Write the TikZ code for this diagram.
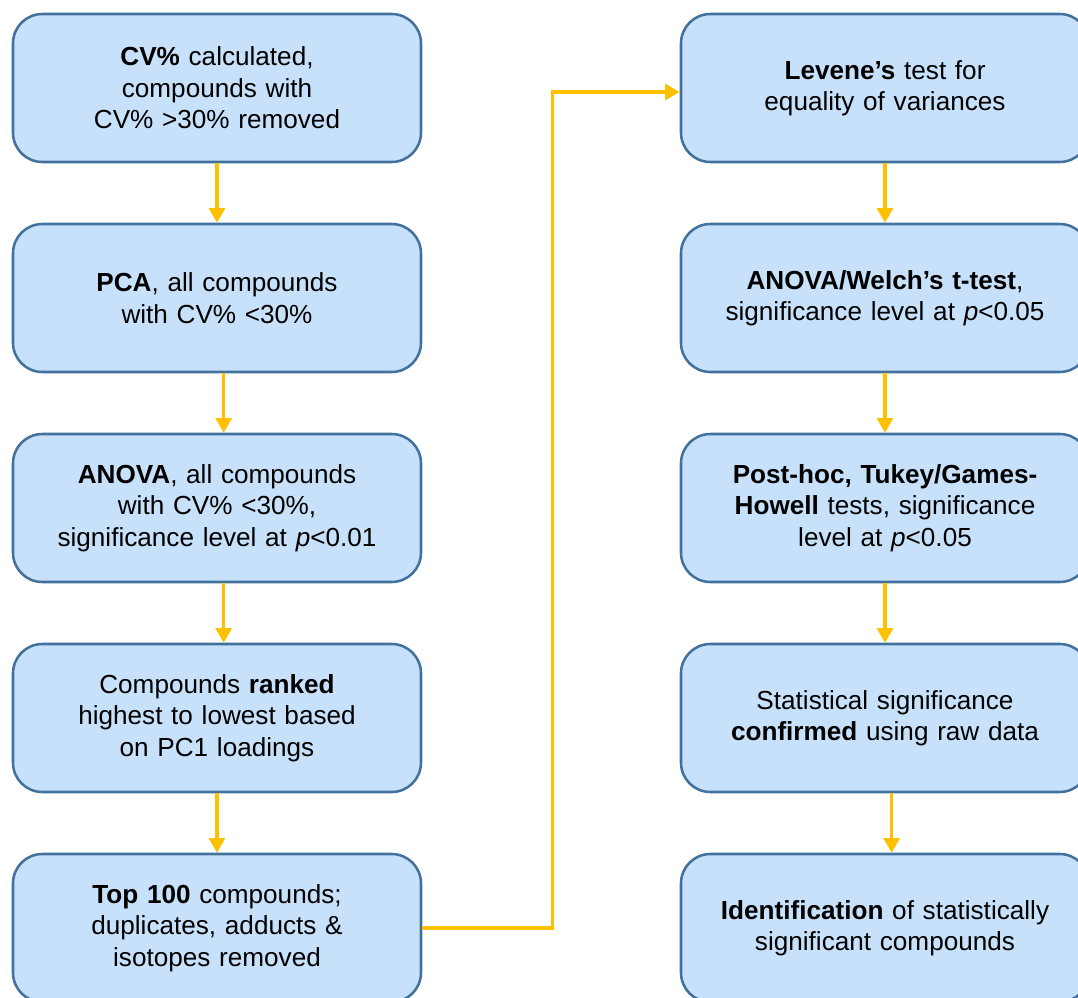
\documentclass[tikz,border=0pt]{standalone}
\usepackage{fontspec}
\setmainfont{Liberation Sans}
\usetikzlibrary{positioning,arrows.meta}
\definecolor{bxfill}{HTML}{C8E1FB}
\definecolor{bxdraw}{HTML}{41719C}
\definecolor{flow}{HTML}{FFC000}
\tikzstyle{bb}=[rectangle,rounded corners=22pt,line width=1.9pt,draw=bxdraw,fill=bxfill,minimum width=306pt,minimum height=111pt,text width=296pt,align=center,inner sep=0pt,font=\fontsize{19.6}{23.6}\selectfont]
\tikzstyle{ya}=[-{Triangle[width=12pt,length=11pt]},line width=2.3pt,draw=flow]

\begin{document}
\begin{tikzpicture}
    \useasboundingbox (0,0) rectangle (808.5pt,-747.75pt);
    \clip (0,0) rectangle (808.5pt,-747.75pt);
    % left column
    \node (cvp) [bb] at (162.75pt,-66pt) {\textbf{CV\%} calculated,\\compounds with\\CV\% >30\% removed};
    \node (pca) [bb,below=44.6pt of cvp] {\textbf{PCA}, all compounds\\with CV\% <30\%};
    \node (ano) [bb,below=44.6pt of pca] {\textbf{ANOVA}, all compounds\\with CV\% <30\%,\\significance level at \textit{p}<0.01};
    \node (rnk) [bb,below=44.6pt of ano] {Compounds \textbf{ranked}\\highest to lowest based\\on PC1 loadings};
    \node (top) [bb,below=44.6pt of rnk] {\textbf{Top 100} compounds;\\duplicates, adducts \&\\isotopes removed};
    % right column
    \node (lev) [bb,right=193.1pt of cvp] {\textbf{Levene’s} test for\\equality of variances};
    \node (wel) [bb,below=44.6pt of lev] {\textbf{ANOVA/Welch’s t-test},\\significance level at \textit{p}<0.05};
    \node (phc) [bb,below=44.6pt of wel] {\textbf{Post-hoc, Tukey/Games-}\\\textbf{Howell} tests, significance\\level at \textit{p}<0.05};
    \node (con) [bb,below=44.6pt of phc] {Statistical significance\\\textbf{confirmed} using raw data};
    \node (idt) [bb,below=44.6pt of con] {\textbf{Identification} of statistically\\significant compounds};

    \draw[ya] (cvp) -- (pca);
    \draw[ya] ([xshift=5pt]pca.south) -- ([xshift=5pt]ano.north);
    \draw[ya] ([xshift=5pt]ano.south) -- ([xshift=5pt]rnk.north);
    \draw[ya] (rnk) -- (top);
    \draw[ya] (top.east) -- ++(98pt,0) |- ([yshift=-3pt]lev.west);
    \draw[ya] (lev) -- (wel);
    \draw[ya] (wel) -- (phc);
    \draw[ya] (phc) -- (con);
    \draw[ya] ([xshift=5pt]con.south) -- ([xshift=5pt]idt.north);
\end{tikzpicture}
\end{document}
